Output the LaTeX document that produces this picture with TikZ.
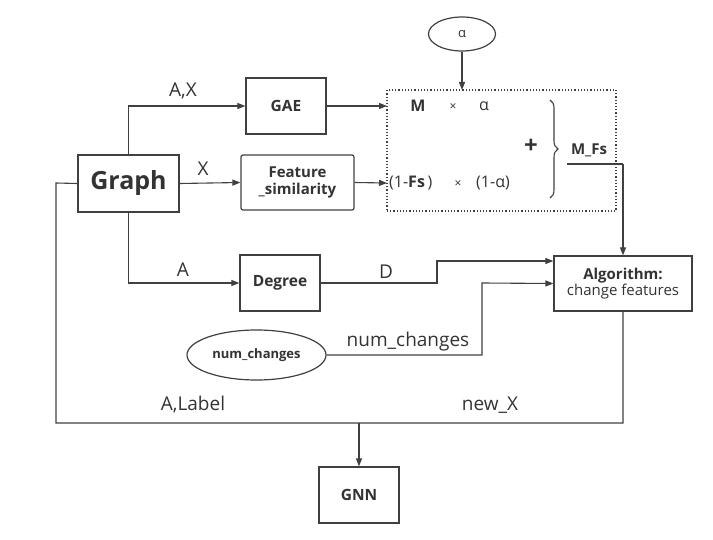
\documentclass[tikz,border=0pt]{standalone}
\usepackage{fontspec}
\setmainfont{Open Sans}
\usetikzlibrary{arrows.meta,shapes.geometric,decorations.pathreplacing}
\definecolor{ln}{HTML}{404040}
\definecolor{tx}{HTML}{333333}
\tikzset{
  box/.style={draw=ln,line width=1.2pt,text=tx,font=\bfseries\fontsize{15.5}{18}\selectfont,align=center,inner sep=0pt},
  ell/.style={draw=ln,line width=1.2pt,ellipse,text=tx,inner sep=0pt},
  conn/.style={draw=ln,line width=1.1pt},
  arr/.style={conn,-{Triangle[length=8pt,width=6pt]}},
  lbl/.style={text=tx,font=\fontsize{19}{21}\selectfont,inner sep=0pt},
  mtx/.style={text=tx,font=\fontsize{16}{18}\selectfont,inner sep=0pt},
}
\begin{document}
\begin{tikzpicture}[x=1pt,y=-1pt]
\useasboundingbox (0,0) rectangle (713,540);
% nodes
\node[box,minimum width=101pt,minimum height=57pt,font=\bfseries\fontsize{25}{28}\selectfont] (graph) at (128.5,183.5) {Graph};
\node[box,minimum width=80pt,minimum height=56pt] (gae) at (286,106) {GAE};
\node[box,rounded corners=2pt,minimum width=113pt,minimum height=55pt,font=\bfseries\fontsize{15}{17.5}\selectfont] (fs) at (297.5,182.5) {Feature\\\_similarity};
\node[box,minimum width=80pt,minimum height=56pt] (deg) at (280,283) {Degree};
\node[box,minimum width=138pt,minimum height=55pt,font=\fontsize{15}{16}\selectfont] (alg) at (623,283.5) {\textbf{Algorithm:}\\change features};
\node[box,minimum width=80pt,minimum height=56pt] (gnn) at (359,495) {GNN};
\node[ell,minimum width=67pt,minimum height=34pt,font=\fontsize{13}{15}\selectfont] (alpha) at (462,34) {α};
\node[ell,minimum width=139pt,minimum height=50pt] (nc) at (256.5,355) {};
\node[text=tx,inner sep=0pt,font=\bfseries\fontsize{13}{15}\selectfont] (nct) at (nc.center) {num\_changes};
% dotted box
\node[draw=ln,line width=1.2pt,dotted,minimum width=229pt,minimum height=121pt,inner sep=0pt] (dbox) at (501.5,150.5) {};
\node[mtx,font=\bfseries\fontsize{16}{18}\selectfont] (m) at (418,106) {M};
\node[mtx,font=\fontsize{12}{14}\selectfont] (t1) at (453,107) {×};
\node[mtx] (a1) at (484,106) {α};
\node[mtx,font=\bfseries\fontsize{24}{26}\selectfont] (plus) at (531,146) {+};
\node[mtx,anchor=west] (fsx) at (389,183) {(1-\textbf{Fs}\,)};
\node[mtx,font=\fontsize{12}{14}\selectfont] (t2) at (458,184) {×};
\node[mtx] (a2) at (493,183) {(1-α)};
\draw[ln,line width=1.1pt,decorate,decoration={brace,amplitude=8pt}] (550,100) -- (550,198);
\node[mtx,font=\bfseries\fontsize{15}{17}\selectfont] (mfs) at (589,150) {M\_Fs};
\coordinate (mfsl) at (567,164);
% connectors
\draw[arr] (graph.north) |- (gae.west);
\node[lbl] at (183,91) {A,X};
\draw[arr] (graph.east) -- (fs.west);
\node[lbl] at (203,169) {X};
\draw[arr] (graph.south) |- (deg.west);
\node[lbl] at (183,270) {A};
\draw[arr] (gae.east) -- (387,106);
\draw[arr] (fs.east) -- (387,183);
\draw[arr] (alpha.south) -- (462,90);
\draw[conn] (mfsl) -- (623,164);
\draw[arr] (623,164) -- (alg.north);
\draw[arr] (deg.east) -- (437,283) -- (437,261) -- (alg.west |- 0,261);
\node[lbl] at (386,272) {D};
\draw[arr] (nc.east) -- (482,355) -- (482,283) -- (alg.west);
\node[lbl] at (408,342) {num\_changes};
\draw[conn] (alg.south) -- (623,423) -- (56,423) -- (56,183) -- (graph.west);
\node[lbl] at (193,405) {A,Label};
\node[lbl] at (490,405) {new\_X};
\draw[arr] (359,423) -- (gnn.north);
\end{tikzpicture}
\end{document}
